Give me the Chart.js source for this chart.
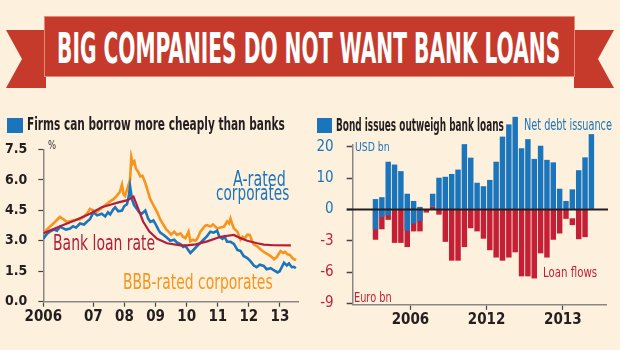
<!DOCTYPE html>
<html>
<head>
<meta charset="utf-8">
<script src="https://cdn.jsdelivr.net/npm/chart.js@4.4.1/dist/chart.umd.min.js"></script>
<style>
  html, body { margin: 0; padding: 0; background: #fdf0dc; }
  body { width: 620px; height: 350px; position: relative; overflow: hidden;
         font-family: "Liberation Sans Narrow", "DejaVu Sans Condensed", "Roboto", sans-serif; }
  .txt { position: absolute; white-space: nowrap; line-height: 1; transform-origin: 0 0; }
  .shape { position: absolute; }
  canvas { position: absolute; }
</style>
</head>
<body>
<div class="shape" style="left:6px;top:30px;width:40px;height:58px;background:#c63a2b;clip-path:polygon(0 0,100% 0,100% 100%,0 100%,40% 50%)"></div>
<div class="shape" style="left:574px;top:30px;width:40px;height:58px;background:#c63a2b;clip-path:polygon(0 0,100% 0,60% 50%,100% 100%,0 100%)"></div>
<div class="shape" style="left:45px;top:17px;width:529px;height:59px;background:#c63a2b;box-shadow:0 0 0 1px #e48a78"></div>

<div class="shape" style="left:7px;top:118px;width:16px;height:15px;background:#1b75bc"></div>
<div class="shape" style="left:317px;top:118px;width:15px;height:15px;background:#1b75bc"></div>

<canvas id="rateChart" width="310" height="200" style="left:0;top:130px"></canvas>
<canvas id="flowChart" width="320" height="250" style="left:300px;top:100px"></canvas>

<div class="txt" data-w="503" style="left:57px;top:27px;font-size:43px;font-weight:bold;color:#fff">BIG COMPANIES DO NOT WANT BANK LOANS</div>
<div class="txt" data-w="258" style="left:27px;top:116px;font-size:17px;font-weight:bold;color:#231f20">Firms can borrow more cheaply than banks</div>
<div class="txt" data-w="168" style="left:336px;top:117px;font-size:17px;font-weight:bold;color:#231f20">Bond issues outweigh bank loans</div>
<div class="txt" data-w="88" style="left:524px;top:118px;font-size:15px;color:#1b75bc">Net debt issuance</div>
<div class="txt" data-w="35" style="left:355px;top:140px;font-size:13px;color:#1b75bc">USD bn</div>
<div class="txt" data-w="38" style="left:354px;top:290px;font-size:14px;color:#c41f35">Euro bn</div>
<div class="txt" data-w="54" style="left:543px;top:265px;font-size:14.5px;color:#c41f35">Loan flows</div>
<div class="txt" data-w="8" style="left:48px;top:138px;font-size:13px;color:#333">%</div>
<div class="txt" data-w="102" style="left:53px;top:233px;font-size:21px;color:#b21e3b">Bank loan rate</div>
<div class="txt" data-w="53" style="left:233px;top:169px;font-size:21px;color:#1b75bc">A-rated</div>
<div class="txt" data-w="73" style="left:216px;top:183px;font-size:21px;color:#1b75bc">corporates</div>
<div class="txt" data-w="150" style="left:123px;top:272px;font-size:21px;color:#f7941d">BBB-rated corporates</div>

<script>
// left chart: yields, %
const bankDates = [2005.39, 2005.93, 2006.4, 2006.89, 2007.27, 2007.6, 2007.81, 2008.1, 2008.29, 2008.45, 2008.6, 2008.8, 2009.05, 2009.37, 2009.8, 2010.01, 2010.3, 2010.66, 2011.09, 2011.52, 2011.73, 2011.95, 2012.27, 2012.48, 2012.8, 2013.35];
const bankRate = [3.37, 3.72, 4.0, 4.33, 4.65, 4.8, 4.89, 5.0, 5.18, 4.55, 3.95, 3.45, 3.1, 2.88, 2.77, 2.77, 2.82, 2.97, 3.2, 3.29, 3.13, 3.0, 2.88, 2.81, 2.78, 2.77];

const aDates = [2005.39, 2005.51, 2005.6, 2005.73, 2005.83, 2005.93, 2006.02, 2006.12, 2006.25, 2006.35, 2006.44, 2006.57, 2006.7, 2006.8, 2006.89,
  2007.0, 2007.12, 2007.27, 2007.38, 2007.47, 2007.54, 2007.64, 2007.7, 2007.8, 2007.92, 2007.99,
  2008.08, 2008.14, 2008.18, 2008.24, 2008.31, 2008.4, 2008.47, 2008.56, 2008.67, 2008.76, 2008.83, 2008.93, 2008.99,
  2009.09, 2009.15, 2009.25, 2009.37, 2009.47, 2009.6, 2009.7, 2009.8, 2009.89, 2009.96,
  2010.05, 2010.12, 2010.23, 2010.31, 2010.44, 2010.54, 2010.64, 2010.76, 2010.87, 2010.98,
  2011.05, 2011.15, 2011.22, 2011.3, 2011.41, 2011.52, 2011.63, 2011.73, 2011.83, 2011.95,
  2012.05, 2012.16, 2012.25, 2012.35, 2012.48, 2012.57, 2012.7, 2012.8, 2012.92, 2012.99,
  2013.13, 2013.22, 2013.29, 2013.38, 2013.45, 2013.51];
const aRate = [3.1, 3.35, 3.45, 3.55, 3.5, 3.69, 3.62, 3.55, 3.6, 3.72, 3.65, 3.85, 3.8, 3.95, 4.06,
  4.4, 4.25, 4.33, 4.2, 4.4, 4.3, 4.55, 4.65, 4.45, 4.49, 4.7,
  4.8, 5.2, 5.69, 5.05, 4.75, 4.57, 4.4, 4.33, 4.49, 4.1, 3.93, 4.0, 3.85,
  3.55, 3.4, 3.3, 3.15, 3.0, 3.05, 2.9, 2.84, 2.7, 2.75,
  2.55, 2.4, 2.57, 2.7, 2.9, 3.05, 3.2, 3.45, 3.4, 3.5,
  3.2, 3.1, 3.2, 2.95, 2.95, 2.85, 2.55, 2.5, 2.25, 2.15,
  2.0, 1.78, 1.7, 1.82, 1.76, 1.6, 1.65, 1.55, 1.44, 1.5,
  1.92, 1.78, 1.88, 1.7, 1.72, 1.65];

const bbbDates = [2005.39, 2005.5, 2005.6, 2005.75, 2005.92, 2006.05, 2006.15, 2006.25, 2006.4, 2006.57, 2006.7, 2006.8, 2006.89,
  2007.0, 2007.11, 2007.25, 2007.43, 2007.55, 2007.65, 2007.75, 2007.85, 2007.92, 2007.97,
  2008.02, 2008.1, 2008.18, 2008.22, 2008.27, 2008.32, 2008.37, 2008.44, 2008.51, 2008.58, 2008.67, 2008.75, 2008.83, 2008.95,
  2009.05, 2009.15, 2009.26, 2009.35, 2009.42, 2009.5, 2009.6, 2009.69, 2009.8, 2009.88, 2009.96,
  2010.03, 2010.06, 2010.12, 2010.2, 2010.28, 2010.34, 2010.44, 2010.52, 2010.6, 2010.66, 2010.76, 2010.85, 2010.98,
  2011.09, 2011.2, 2011.3, 2011.36, 2011.41, 2011.47, 2011.52, 2011.63, 2011.73, 2011.8, 2011.88, 2011.95,
  2012.03, 2012.1, 2012.16, 2012.27, 2012.38, 2012.48, 2012.59, 2012.7, 2012.81, 2012.9, 2012.96,
  2013.02, 2013.1, 2013.17, 2013.24, 2013.32, 2013.4, 2013.45, 2013.52];
const bbbRate = [3.37, 3.55, 3.69, 3.9, 4.17, 4.05, 3.92, 3.96, 4.02, 4.06, 4.2, 4.35, 4.57,
  4.5, 4.41, 4.6, 4.81, 4.95, 5.05, 5.21, 5.4, 5.77, 5.3,
  5.21, 5.6, 6.01, 7.13, 6.8, 6.9, 6.55, 6.4, 6.17, 6.2, 5.85, 5.45, 5.05, 4.7,
  4.41, 4.05, 3.77, 3.55, 3.45, 3.3, 3.45, 3.29, 3.37, 3.2, 3.13,
  3.35, 3.45, 2.97, 3.05, 3.0, 3.1, 3.45, 3.6, 3.75, 3.77, 3.7, 3.8, 3.61,
  3.65, 3.7, 3.95, 3.85, 4.09, 3.8, 3.61, 3.45, 3.05, 3.2, 3.13, 3.3,
  3.29, 3.0, 2.81, 2.73, 2.57, 2.45, 2.35, 2.25, 2.09, 2.2, 2.35,
  2.49, 2.4, 2.45, 2.33, 2.3, 2.15, 2.09, 2.05];

const leftYearTicks = [2005.39, 2007, 2008, 2009, 2010, 2011, 2012, 2013];
const leftYearLabels = ['2006', '07', '08', '09', '10', '11', '12', '13'];
const pctTicks = [0, 1.5, 3, 4.5, 6, 7.5];
const pctLabels = ['0.0', '1.5', '3.0', '4.5', '6.0', '7.5'];

// right chart: monthly flows
const netDebtIssuance = [3.3, 3.9, 15.2, 14.3, 12.2, 5.0, 2.7, 0.8, 0, 5.0, 10.1, 10.4, 11.3, 12.7, 20.8, 16.5, 8.5, 7.4,
  9.4, 15.2, 23.2, 27.1, 29.5, 19.5, 22.4, 16.1, 20.3, 15.8, 15.0, 6.6, 2.7, 6.4, 12.5, 16.6, 24.0];
const netDebtBase = [-6.4, -2.4, -1.9, 0, 0, -6.8, -4.5, -3.7, 0, 0.8, 0, 0, 0, 0, 0, 0, 0, 0,
  0, 0, 0, 0, 0, 0, 0, 0, 0, 0, 0, 0, 0, 0, 0, 0, 0];
const loanFlows = [-2.9, -1.9, -1.0, -3.2, -3.2, -3.6, -2.1, -2.1, -0.3, 0.25, -0.5, -3.1, -4.9, -4.9, -3.6, -1.8, -2.1, -2.8,
  -3.9, -4.6, -4.9, -4.6, -4.1, -6.4, -6.4, -6.6, -4.2, -4.6, -2.9, -2.3, -0.9, -1.5, -2.85, -2.65, 0];
const loanFlowsBase = [0, 0, 0, 0, 0, 0, 0, 0, 0, 0, 0, 0, 0, 0, 0, 0, 0, 0,
  0, 0, 0, 0, 0, 0, 0, 0, 0, 0, 0, 0, 0, -0.85, 0, 0, 0];
const barSlots = netDebtIssuance.map((_, i) => i + 1);
const flowYearTicks = [6.5, 18.5, 30.5];
const flowYearLabels = ['2006', '2012', '2013'];
const flowTicks = [-30, -20, -10, 0, 10, 20];   // USD-scale positions
const flowTickLabels = ['-9', '-6', '-3', '0', '10', '20'];

const FONT = '"Liberation Sans Narrow", "DejaVu Sans Condensed", sans-serif';
const BLUE = '#1b75bc', ORANGE = '#f7941d', CRIMSON = '#b21e3b', BARRED = '#c41f35';

// squeeze html labels to their measured widths
document.querySelectorAll('.txt').forEach(el => {
  const w = +el.dataset.w;
  el.style.transform = `scaleX(${w / el.offsetWidth})`;
});

const pts = (xs, ys) => xs.map((x, i) => ({ x, y: ys[i] }));

new Chart(document.getElementById('rateChart'), {
  type: 'line',
  data: {
    datasets: [
      { data: pts(bankDates, bankRate), borderColor: CRIMSON, borderWidth: 2.2, pointRadius: 0, tension: 0, order: 1 },
      { data: pts(aDates, aRate), borderColor: BLUE, borderWidth: 2.6, pointRadius: 0, tension: 0, order: 2 },
      { data: pts(bbbDates, bbbRate), borderColor: ORANGE, borderWidth: 2.6, pointRadius: 0, tension: 0, order: 3 }
    ]
  },
  options: {
    responsive: false, animation: false, events: [],
    layout: { padding: { top: 15.7, right: 12, left: 0, bottom: 0 } },
    plugins: { legend: { display: false }, tooltip: { enabled: false } },
    scales: {
      x: {
        type: 'linear', min: 2005.39, max: 2013.58,
        afterBuildTicks: s => { s.ticks = leftYearTicks.map(v => ({ value: v })); },
        afterFit: s => { s.height = 28.3; },
        ticks: { callback: (v, i) => leftYearLabels[i], color: '#231f20', padding: 1, maxRotation: 0, autoSkip: false,
                 font: { family: FONT, size: 15, weight: 'bold' } },
        grid: { drawOnChartArea: false, tickLength: 5, tickColor: '#444', tickWidth: 1.2 },
        border: { color: '#888', width: 1.5 }
      },
      y: {
        min: 0, max: 7.5,
        afterBuildTicks: s => { s.ticks = pctTicks.map(v => ({ value: v })); },
        afterFit: s => { s.width = 43.3; },
        ticks: { callback: (v, i) => pctLabels[i], color: '#231f20', padding: 11, autoSkip: false,
                 font: { family: FONT, size: 14, weight: 'bold' } },
        grid: { drawOnChartArea: false, tickLength: 5, tickColor: '#444', tickWidth: 1.2 },
        border: { color: '#888', width: 1.5 }
      }
    }
  }
});

// zero line painted above the bars
const zeroLine = {
  id: 'zeroLine',
  afterDatasetsDraw(chart) {
    const { ctx, chartArea, scales } = chart;
    const y = scales.y.getPixelForValue(0);
    ctx.save();
    ctx.strokeStyle = '#231f20';
    ctx.lineWidth = 2;
    ctx.beginPath();
    ctx.moveTo(chartArea.left - 6, y);
    ctx.lineTo(chartArea.right + 2, y);
    ctx.stroke();
    ctx.restore();
  }
};

new Chart(document.getElementById('flowChart'), {
  type: 'bar',
  data: {
    datasets: [
      { data: barSlots.map((x, i) => ({ x, y: [netDebtBase[i], netDebtIssuance[i]] })),
        backgroundColor: BLUE, yAxisID: 'y', order: 1 },
      { data: barSlots.map((x, i) => ({ x, y: [loanFlowsBase[i], loanFlows[i]] })),
        backgroundColor: BARRED, yAxisID: 'yEur', order: 2 }
    ]
  },
  options: {
    responsive: false, animation: false, events: [],
    layout: { padding: { top: 45.1, right: 14, left: 0, bottom: 0 } },
    plugins: { legend: { display: false }, tooltip: { enabled: false } },
    datasets: { bar: { grouped: false, clip: false, barPercentage: 0.86, categoryPercentage: 1, borderWidth: 0 } },
    scales: {
      x: {
        type: 'linear', min: -2.59, max: 37.3, offset: false,
        afterBuildTicks: s => { s.ticks = flowYearTicks.map(v => ({ value: v })); },
        afterFit: s => { s.height = 45.2; },
        ticks: { callback: (v, i) => flowYearLabels[i], color: '#231f20', padding: 1, maxRotation: 0, autoSkip: false,
                 font: { family: FONT, size: 15, weight: 'bold' } },
        grid: { offset: false, drawOnChartArea: false, tickLength: 5, tickColor: '#444', tickWidth: 1.2 },
        border: { color: '#888', width: 1.5 }
      },
      y: {
        min: -30.4, max: 20.5,
        afterBuildTicks: s => { s.ticks = flowTicks.map(v => ({ value: v })); },
        afterFit: s => { s.width = 52.7; },
        ticks: { callback: (v, i) => flowTickLabels[i], padding: 13, autoSkip: false,
                 color: c => c.tick && c.tick.value < 0 ? BARRED : BLUE,
                 font: { family: FONT, size: 15 } },
        grid: { drawOnChartArea: false, tickLength: 6, tickColor: '#444', tickWidth: 1.5 },
        border: { color: '#888', width: 1.5 }
      },
      yEur: { display: false, min: -9.12, max: 6.15 }
    }
  },
  plugins: [zeroLine]
});
</script>
</body>
</html>
